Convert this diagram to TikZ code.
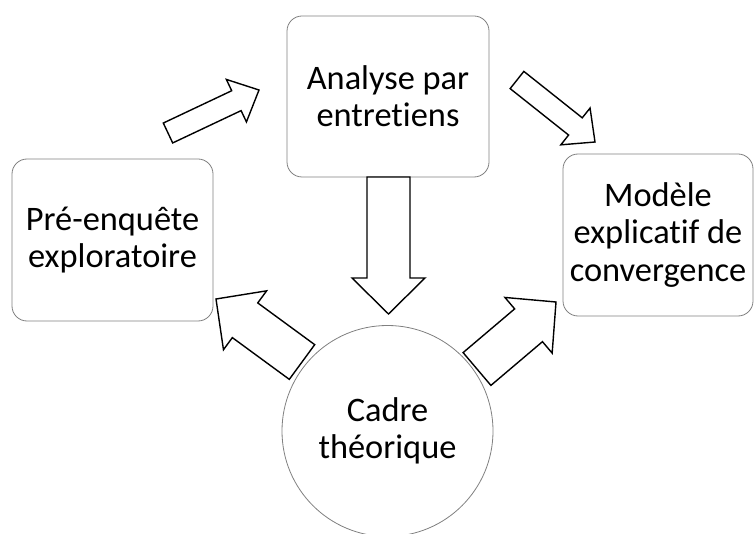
\documentclass[tikz,border=0pt]{standalone}
\usepackage{fontspec}
\setmainfont{Carlito}[RawFeature=-liga]
\usetikzlibrary{calc}
\tikzset{
  boxnode/.style={draw=black!50, line width=0.8bp, fill=white, rounded corners=15bp,
    align=center, inner sep=0pt, font=\fontsize{34.5}{37.5}\selectfont},
  circnode/.style={draw=black!50, line width=0.8bp, fill=white, circle,
    align=center, inner sep=0pt, font=\fontsize{34.5}{37.5}\selectfont},
  blockarrow/.style={draw=black, line width=1.4bp, fill=white, line join=miter}
}
% #1 tail, #2 tip, #3 shaft half-width, #4 head half-width, #5 head length
\newcommand{\myblockarrow}[5]{%
  \path coordinate (hb) at ($(#2)!#5!(#1)$);
  \draw[blockarrow] ($(#1)!#3!90:(#2)$) -- ($(hb)!#3!90:(#2)$) -- ($(hb)!#4!90:(#2)$)
    -- (#2) -- ($(hb)!#4!-90:(#2)$) -- ($(hb)!#3!-90:(#2)$) -- ($(#1)!#3!-90:(#2)$) -- cycle;
}
\begin{document}
\begin{tikzpicture}[x=1bp,y=-1bp]
\useasboundingbox (0,0) rectangle (754,534);
\node[boxnode, minimum width=201bp, minimum height=162bp] (pre) at (112.5,240) {Pré-enquête\\exploratoire};
\node[boxnode, minimum width=202bp, minimum height=161bp] (ana) at (388,96.5) {Analyse par\\entretiens};
\node[boxnode, minimum width=190bp, minimum height=162bp] (mod) at (658,235) {Modèle\\explicatif de\\convergence};
\node[circnode, minimum size=211bp] (cad) at (387.5,431) {Cadre\\théorique};
% arrow endpoints
\coordinate (a1t) at (168,133); \coordinate (a1h) at (259,90);
\coordinate (a2t) at (517,80);  \coordinate (a2h) at (595,142);
\coordinate (a3t) at (388.5,177); \coordinate (a3h) at (388.5,314);
\coordinate (a4t) at (302,362); \coordinate (a4h) at (216,299);
\coordinate (a5t) at (477,369); \coordinate (a5h) at (556,302);
\myblockarrow{a1t}{a1h}{11bp}{23.5bp}{25bp}
\myblockarrow{a2t}{a2h}{11bp}{23.5bp}{25bp}
\myblockarrow{a3t}{a3h}{21.5bp}{36.5bp}{36bp}
\myblockarrow{a4t}{a4h}{21.5bp}{36.5bp}{36bp}
\myblockarrow{a5t}{a5h}{21.5bp}{36.5bp}{36bp}
\end{tikzpicture}
\end{document}
